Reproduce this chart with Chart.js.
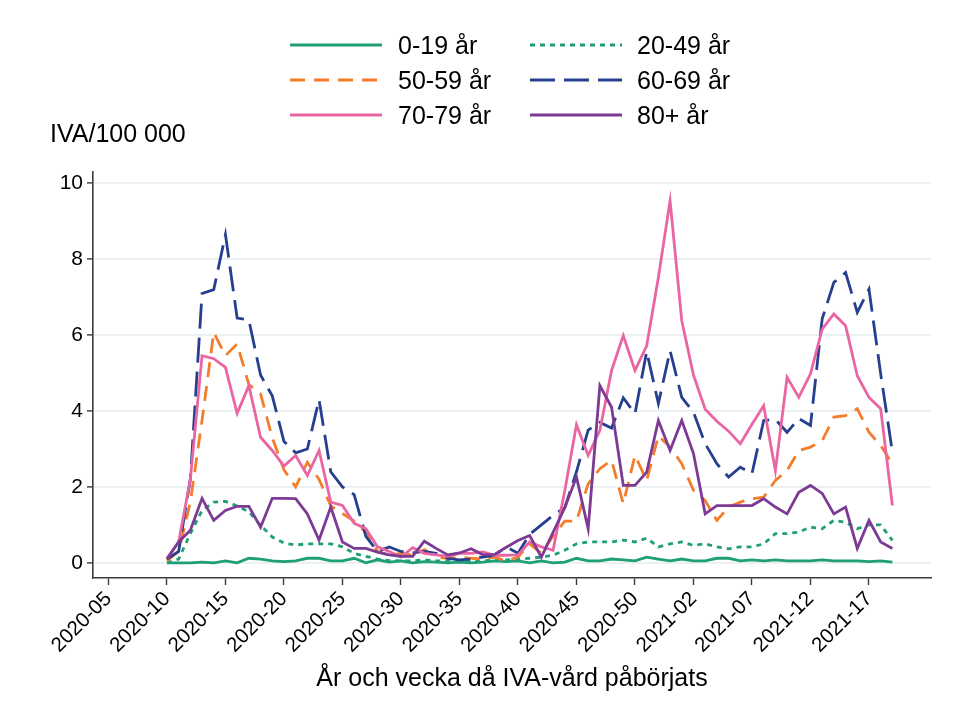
<!DOCTYPE html>
<html>
<head>
<meta charset="utf-8">
<script src="https://cdn.jsdelivr.net/npm/chart.js@4"></script>
<style>
  body { margin: 0; background: #fff; }
  #wrap { position: relative; width: 977px; height: 715px; font-family: 'Liberation Sans', Arial, sans-serif; color: #000; }
  #ytitle { position: absolute; left: 50px; top: 119px; font-size: 25px; line-height: 28px; }
  .lg { position: absolute; height: 30px; }
  .lg span { position: absolute; font-size: 25px; line-height: 30px; white-space: nowrap; }
</style>
</head>
<body>
<div id="wrap">
  <canvas id="myChart" width="977" height="715"></canvas>
  <div id="ytitle">IVA/100 000</div>
  <div id="legend"></div>
</div>
<script>
// weeks with data, 2020-10 .. 2021-19
const weeks = ['2020-10','2020-11','2020-12','2020-13','2020-14','2020-15','2020-16','2020-17','2020-18','2020-19',
  '2020-20','2020-21','2020-22','2020-23','2020-24','2020-25','2020-26','2020-27','2020-28','2020-29',
  '2020-30','2020-31','2020-32','2020-33','2020-34','2020-35','2020-36','2020-37','2020-38','2020-39',
  '2020-40','2020-41','2020-42','2020-43','2020-44','2020-45','2020-46','2020-47','2020-48','2020-49',
  '2020-50','2020-51','2020-52','2020-53','2021-01','2021-02','2021-03','2021-04','2021-05','2021-06',
  '2021-07','2021-08','2021-09','2021-10','2021-11','2021-12','2021-13','2021-14','2021-15','2021-16',
  '2021-17','2021-18','2021-19'];

// axis ticks, every 5th week starting 2020-05
const tickLabels = ['2020-05','2020-10','2020-15','2020-20','2020-25','2020-30','2020-35',
  '2020-40','2020-45','2020-50','2021-02','2021-07','2021-12','2021-17'];
const firstWeekOffset = 5; // 2020-10 is 5 weeks after 2020-05

const yTicks = [0, 2, 4, 6, 8, 10];

const age0_19 = [0,0,0,0.02,0,0.05,0,0.12,0.1,0.05, 0.03,0.05,0.12,0.12,0.05,0.05,0.12,0,0.08,0.02,
  0.05,0,0.03,0.02,0,0.02,0,0.02,0.05,0.03, 0.05,0,0.05,0,0.02,0.12,0.05,0.05,0.1,0.08,
  0.05,0.15,0.1,0.05,0.1,0.05,0.05,0.12,0.12,0.05, 0.08,0.05,0.08,0.05,0.05,0.05,0.08,0.05,0.05,0.05,
  0.03,0.05,0.02];
const age20_49 = [0,0.1,0.77,1.38,1.6,1.62,1.5,1.34,0.99,0.68, 0.52,0.47,0.5,0.5,0.5,0.42,0.25,0.17,0.1,0.06,
  0.05,0.05,0.08,0.05,0.05,0.05,0.05,0.05,0.08,0.08, 0.1,0.12,0.15,0.2,0.33,0.5,0.55,0.55,0.55,0.6,
  0.55,0.65,0.42,0.5,0.55,0.46,0.5,0.42,0.37,0.42, 0.42,0.5,0.77,0.77,0.81,0.94,0.9,1.12,1.07,0.9,
  1.0,1.0,0.59];
const age50_59 = [0.05,0.3,1.6,3.75,6.07,5.46,5.77,4.7,4.45,3.3, 2.45,2.0,2.65,2.2,1.5,1.3,1.1,0.8,0.3,0.2,
  0.25,0.2,0.35,0.15,0.12,0.15,0.12,0.1,0.15,0.05, 0.15,0.5,0.25,0.7,1.1,1.1,2.08,2.48,2.7,1.56,
  2.83,2.17,3.35,3.05,2.61,1.91,1.64,1.12,1.47,1.6, 1.69,1.73,2.17,2.43,2.96,3.05,3.22,3.84,3.88,4.06,
  3.44,3.09,2.61];
const age60_69 = [0.1,0.3,2.2,7.1,7.2,8.65,6.45,6.4,4.95,4.4, 3.2,2.9,3.0,4.3,2.4,2.0,1.8,0.7,0.3,0.42,
  0.3,0.26,0.3,0.25,0.12,0.08,0.1,0.15,0.2,0.42, 0.25,0.75,1.0,1.25,1.45,2.4,3.5,3.7,3.55,4.35,
  3.93,5.57,4.2,5.59,4.36,3.97,3.14,2.61,2.26,2.52, 2.35,3.75,3.78,3.44,3.8,3.62,6.43,7.39,7.65,6.6,
  7.21,4.98,2.92];
const age70_79 = [0.12,0.55,2.2,5.46,5.38,5.15,3.94,4.67,3.31,2.96, 2.55,2.83,2.3,2.96,1.6,1.51,1.04,0.9,0.42,0.3,
  0.15,0.4,0.25,0.21,0.17,0.25,0.25,0.29,0.2,0.2, 0.21,0.55,0.42,0.33,1.9,3.64,2.83,3.49,5.07,5.99,
  5.07,5.72,7.52,9.54,6.38,4.95,4.05,3.73,3.47,3.14, 3.65,4.14,2.43,4.89,4.36,4.98,6.16,6.56,6.25,4.93,
  4.36,4.06,1.51];
const age80 = [0.1,0.55,0.86,1.7,1.12,1.38,1.49,1.49,0.94,1.7, 1.7,1.69,1.29,0.6,1.47,0.55,0.38,0.38,0.28,0.21,
  0.17,0.17,0.57,0.38,0.21,0.26,0.37,0.21,0.22,0.41, 0.59,0.72,0.15,0.8,1.45,2.26,0.9,4.67,4.1,2.04,
  2.04,2.39,3.75,2.96,3.75,2.88,1.29,1.51,1.51,1.51, 1.51,1.69,1.47,1.29,1.86,2.04,1.83,1.29,1.47,0.38,
  1.12,0.55,0.38];

const series = [
  { name: '0-19 år',  data: age0_19,  color: '#1f9e78', dash: [] },
  { name: '20-49 år', data: age20_49, color: '#1f9e78', dash: [5, 5] },
  { name: '50-59 år', data: age50_59, color: '#f47d2c', dash: [15, 9] },
  { name: '60-69 år', data: age60_69, color: '#263f8e', dash: [25, 9] },
  { name: '70-79 år', data: age70_79, color: '#ea66a2', dash: [] },
  { name: '80+ år',   data: age80,    color: '#7d3a95', dash: [] }
];

const datasets = series.map((s, k) => ({
  label: s.name,
  data: s.data.map((v, i) => ({ x: i + firstWeekOffset, y: v })),
  borderColor: s.color,
  borderDash: s.dash,
  borderWidth: 2.8,
  pointRadius: 0,
  tension: 0,
  fill: false,
  order: series.length - k
}));

// html legend, two columns
const legend = document.getElementById('legend');
series.forEach((s, k) => {
  const col = k % 2, row = Math.floor(k / 2);
  const lineX = col ? 530 : 290, textX = col ? 637 : 398, cy = 45 + row * 35;
  const el = document.createElement('div');
  el.className = 'lg';
  el.style.left = lineX + 'px';
  el.style.top = (cy - 15) + 'px';
  el.innerHTML = '<svg width="92" height="30" style="position:absolute;left:0;top:0">' +
    '<line x1="0" y1="15" x2="92" y2="15" stroke="' + s.color + '" stroke-width="3" stroke-dasharray="' +
    (s.dash.length ? s.dash.join(' ') : 'none') + '"/></svg>' +
    '<span style="left:' + (textX - lineX) + 'px;top:0">' + s.name + '</span>';
  legend.appendChild(el);
});

const axisColor = '#3a3a3a';
const fontFam = "'Liberation Sans', Arial, sans-serif";

new Chart(document.getElementById('myChart'), {
  type: 'line',
  data: { datasets: datasets },
  options: {
    responsive: false,
    animation: false,
    events: [],
    layout: { padding: { left: 0, right: 46, top: 172, bottom: 17 } },
    plugins: { legend: { display: false }, tooltip: { enabled: false } },
    scales: {
      x: {
        type: 'linear',
        min: -1.32,
        max: 70.3,
        afterFit: s => { s.height = 120; },
        afterBuildTicks: s => { s.ticks = tickLabels.map((_, k) => ({ value: k * 5 })); },
        border: { display: true, color: axisColor, width: 1.6 },
        grid: { drawOnChartArea: false, drawTicks: true, tickLength: 7, tickColor: axisColor, tickWidth: 1.4 },
        ticks: {
          autoSkip: false,
          minRotation: 45,
          maxRotation: 45,
          padding: 2,
          color: '#000',
          font: { family: fontFam, size: 20.5 },
          callback: v => tickLabels[Math.round(v / 5)]
        },
        title: {
          display: true,
          text: 'År och vecka då IVA-vård påbörjats',
          color: '#000',
          font: { family: fontFam, size: 25 },
          padding: { top: 4, bottom: 4 }
        }
      },
      y: {
        min: -0.4,
        max: 10.3,
        afterFit: s => { s.width = 93; },
        afterBuildTicks: s => { s.ticks = yTicks.map(v => ({ value: v })); },
        border: { display: true, color: axisColor, width: 1.6 },
        grid: { color: '#e7eff1', lineWidth: 1.8, drawTicks: true, tickLength: 6, tickColor: axisColor, tickWidth: 1.4 },
        ticks: {
          padding: 4,
          color: '#000',
          font: { family: fontFam, size: 21 }
        }
      }
    }
  }
});
</script>
</body>
</html>
